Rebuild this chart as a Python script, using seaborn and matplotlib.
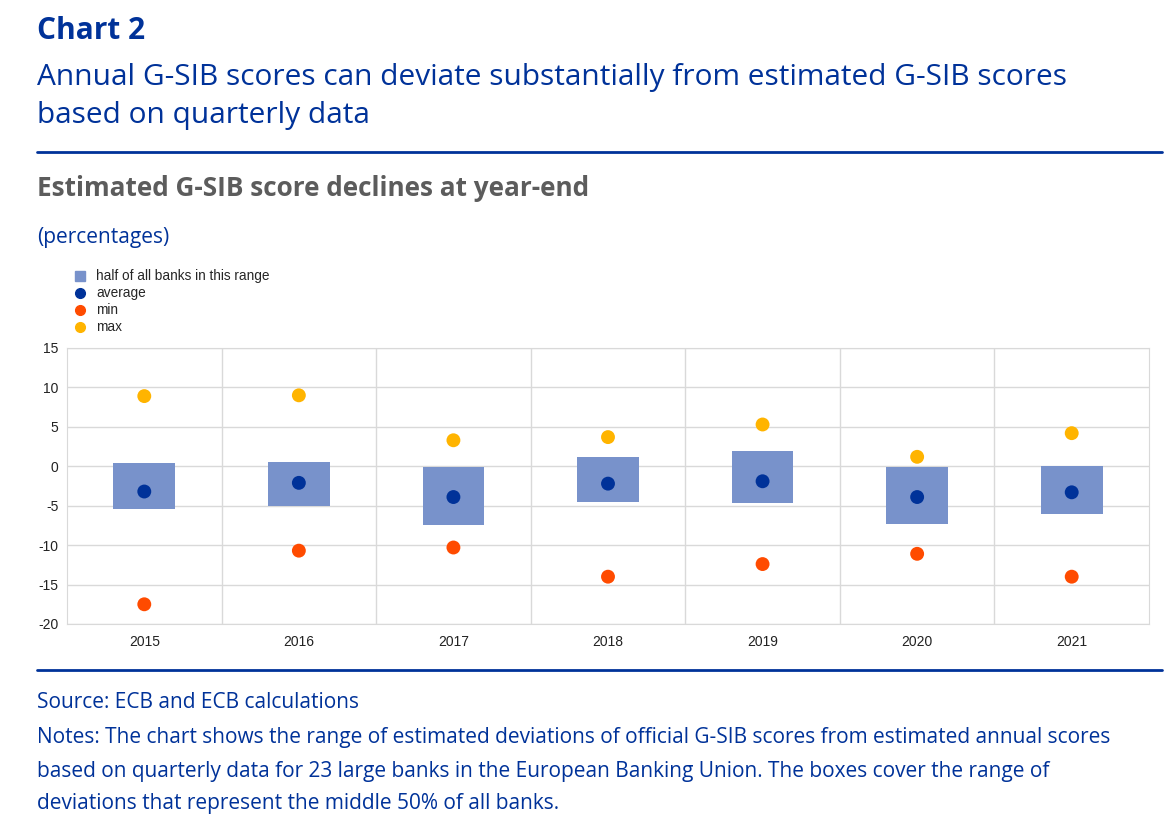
import numpy as np
import pandas as pd
import seaborn as sns
import matplotlib.pyplot as plt
from matplotlib.lines import Line2D

# Valeurs
years = ['2015', '2016', '2017', '2018', '2019', '2020', '2021']
box_top = [0.4, 0.6, -0.1, 1.2, 1.9, -0.1, 0.0]
box_bottom = [-5.4, -5.0, -7.4, -4.5, -4.7, -7.3, -6.0]
average = [-3.2, -2.1, -3.9, -2.2, -1.9, -3.9, -3.3]
minimum = [-17.5, -10.7, -10.3, -14.0, -12.4, -11.1, -14.0]
maximum = [8.9, 9.0, 3.3, 3.7, 5.3, 1.2, 4.2]

yticks = [15, 10, 5, 0, -5, -10, -15, -20]

ecb_blue = '#003299'
box_col = '#7892cb'
min_col = '#ff4b00'
max_col = '#ffb400'
grid_col = '#d9d9d9'

sns.set_style('white')
plt.rcParams['font.family'] = ['Open Sans', 'DejaVu Sans']
plt.rcParams['axes.unicode_minus'] = False

fig = plt.figure(figsize=(11.75, 8.16), dpi=100)

# En-tête
fig.text(37 / 1175, 1 - 31 / 816, 'Chart 2', fontsize=21.5, fontweight='bold',
         color=ecb_blue, va='center')
fig.text(37 / 1175, 1 - 78 / 816,
         'Annual G-SIB scores can deviate substantially from estimated G-SIB scores',
         fontsize=21.5, color=ecb_blue, va='center')
fig.text(37 / 1175, 1 - 116 / 816, 'based on quarterly data',
         fontsize=21.5, color=ecb_blue, va='center')
fig.add_artist(Line2D([37 / 1175, 1162 / 1175], [1 - 152 / 816] * 2,
                      color=ecb_blue, lw=2))
fig.text(37 / 1175, 1 - 188 / 816, 'Estimated G-SIB score declines at year-end',
         fontsize=18.8, fontweight='bold', color='#5c5c5c', va='center')
fig.text(37 / 1175, 1 - 237 / 816, '(percentages)', fontsize=15,
         color=ecb_blue, va='center')

# Graphique
ax = fig.add_axes([67 / 1175, 1 - 624 / 816, (1149 - 67) / 1175, (624 - 348) / 816])
x = np.arange(len(years))
heights = np.array(box_top) - np.array(box_bottom)
ax.bar(x, heights, bottom=box_bottom, width=0.4, color=box_col,
       zorder=2, edgecolor='none')

df = pd.DataFrame({
    'x': np.concatenate([x, x, x]),
    'value': average + minimum + maximum,
    'series': ['average'] * 7 + ['min'] * 7 + ['max'] * 7,
})
sns.scatterplot(data=df, x='x', y='value', hue='series',
                palette={'average': ecb_blue, 'min': min_col, 'max': max_col},
                s=100, edgecolor='none', legend=False, ax=ax, zorder=3)

ax.set_xlim(-0.5, len(years) - 0.5)
ax.set_ylim(-20, 15)
ax.set_yticks(yticks)
ax.set_xticks(x)
ax.set_xticklabels(years)
ax.set_xticks(np.arange(len(years) - 1) + 0.5, minor=True)
ax.grid(axis='y', which='major', color=grid_col, lw=1, zorder=0)
ax.grid(axis='x', which='minor', color=grid_col, lw=1, zorder=0)
ax.set_axisbelow(True)
ax.set_xlabel('')
ax.set_ylabel('')
for s in ax.spines.values():
    s.set_color(grid_col)
ax.tick_params(axis='both', which='both', length=0, labelsize=10,
               labelcolor='#222222')
ax.tick_params(axis='x', pad=8)
ax.tick_params(axis='y', pad=6)
for lab in ax.get_xticklabels() + ax.get_yticklabels():
    lab.set_family(['Liberation Sans', 'DejaVu Sans'])

# Légende
handles = [
    Line2D([], [], marker='s', ls='none', color=box_col, markersize=7),
    Line2D([], [], marker='o', ls='none', color=ecb_blue, markersize=7),
    Line2D([], [], marker='o', ls='none', color=min_col, markersize=7),
    Line2D([], [], marker='o', ls='none', color=max_col, markersize=7),
]
labels = ['half of all banks in this range', 'average', 'min', 'max']
fig.legend(handles, labels, loc='upper left',
           bbox_to_anchor=(66 / 1175, 1 - 264 / 816), frameon=False,
           prop={'family': 'Liberation Sans', 'size': 9.8},
           handletextpad=0.6, labelspacing=0.22, borderaxespad=0,
           handlelength=1.2)

fig.add_artist(Line2D([37 / 1175, 1162 / 1175], [1 - 670 / 816] * 2,
                      color=ecb_blue, lw=2))

# Pied de page
fig.text(37 / 1175, 1 - 703 / 816, 'Source: ECB and ECB calculations',
         fontsize=15, color=ecb_blue, va='center')
notes = ['Notes: The chart shows the range of estimated deviations of official G-SIB scores from estimated annual scores',
         'based on quarterly data for 23 large banks in the European Banking Union. The boxes cover the range of',
         'deviations that represent the middle 50% of all banks.']
for i, line in enumerate(notes):
    fig.text(37 / 1175, 1 - (738 + 33 * i) / 816, line, fontsize=15,
             color=ecb_blue, va='center')

fig.savefig('out.png', dpi=100)
